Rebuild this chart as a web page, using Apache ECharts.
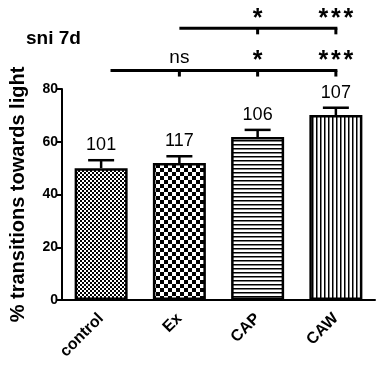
<!DOCTYPE html>
<html>
<head>
<meta charset="utf-8">
<script src="https://cdn.jsdelivr.net/npm/echarts@6/dist/echarts.min.js"></script>
<style>
  html, body { margin: 0; padding: 0; background: #fff; }
  #chart { width: 383px; height: 368px; }
</style>
</head>
<body>
<div id="chart"></div>
<script>
// data
const categories = ["control", "Ex", "CAP", "CAW"];
const means = [50.0, 51.9, 61.8, 70.1];
const errors = [3.0, 2.6, 2.7, 2.8];
const nLabels = ["101", "117", "106", "107"];
const yTicks = [0, 20, 40, 60, 80];

// significance brackets (value-axis height, start position in category units)
const bracketY = [87, 103];
const bracketFrom = [0.12, 1];
const bracketTo = 3;
const sigMarks = [
  ["", "ns", "*", "***"],
  ["", "", "*", "***"],
];

// fill patterns like the prism figure
function makePattern(kind) {
  const c = document.createElement("canvas");
  const ctx = c.getContext("2d");
  if (kind === "fine") {
    c.width = 4; c.height = 4;
    ctx.fillStyle = "#fff"; ctx.fillRect(0, 0, 4, 4);
    ctx.fillStyle = "#000";
    ctx.fillRect(0, 0, 2, 2); ctx.fillRect(2, 2, 2, 2);
  } else if (kind === "coarse") {
    c.width = 8; c.height = 8;
    ctx.fillStyle = "#fff"; ctx.fillRect(0, 0, 8, 8);
    ctx.fillStyle = "#000";
    ctx.fillRect(0, 0, 4, 4); ctx.fillRect(4, 4, 4, 4);
  } else if (kind === "hline") {
    c.width = 4; c.height = 4;
    ctx.fillStyle = "#fff"; ctx.fillRect(0, 0, 4, 4);
    ctx.fillStyle = "#000"; ctx.fillRect(0, 0, 4, 1.5);
  } else {
    c.width = 4; c.height = 4;
    ctx.fillStyle = "#fff"; ctx.fillRect(0, 0, 4, 4);
    ctx.fillStyle = "#000"; ctx.fillRect(0, 0, 1.5, 4);
  }
  return { image: c, repeat: "repeat" };
}
const patterns = ["fine", "coarse", "hline", "vline"].map(makePattern);

const chart = echarts.init(document.getElementById("chart"), null, { renderer: "canvas" });

const option = {
  animation: false,
  title: {
    text: "sni 7d",
    left: 21,
    top: 24,
    textStyle: { fontFamily: "Liberation Sans", fontWeight: "bold", fontSize: 19, color: "#000" },
  },
  grid: { left: 58, right: 8, top: 89, bottom: 68, containLabel: false },
  xAxis: {
    type: "category",
    data: categories,
    axisLine: { lineStyle: { color: "#000", width: 2 } },
    axisTick: { alignWithLabel: true, length: 5, lineStyle: { color: "#000", width: 2 } },
    axisLabel: {
      rotate: 45,
      margin: 16,
      color: "#000",
      fontFamily: "Liberation Sans",
      fontWeight: "bold",
      fontSize: 16,
    },
  },
  yAxis: {
    type: "value",
    min: yTicks[0],
    max: yTicks[yTicks.length - 1],
    interval: yTicks[1] - yTicks[0],
    name: "% transitions towards light",
    nameLocation: "middle",
    nameGap: 34,
    nameTextStyle: { fontFamily: "Liberation Sans", fontWeight: "bold", fontSize: 20, color: "#000" },
    axisLine: { show: true, lineStyle: { color: "#000", width: 2 } },
    axisTick: { show: true, length: 5, lineStyle: { color: "#000", width: 2 } },
    splitLine: { show: false },
    axisLabel: {
      margin: 4,
      color: "#000",
      fontFamily: "Liberation Sans",
      fontWeight: "bold",
      fontSize: 14,
    },
  },
  series: [
    {
      type: "bar",
      barWidth: 53,
      data: means.map((v, i) => ({
        value: v,
        itemStyle: { color: patterns[i], borderColor: "#000", borderWidth: 2.5 },
      })),
    },
    {
      // error bars + n above them
      type: "custom",
      clip: false,
      z: 3,
      data: means.map((m, i) => [i, m, errors[i]]),
      renderItem: function (params, api) {
        const i = api.value(0);
        const m = api.value(1);
        const e = api.value(2);
        const base = api.coord([i, m]);
        const top = api.coord([i, m + e]);
        const style = { stroke: "#000", lineWidth: 2.5 };
        return {
          type: "group",
          children: [
            { type: "line", shape: { x1: base[0], y1: base[1], x2: top[0], y2: top[1] }, style },
            { type: "line", shape: { x1: top[0] - 13, y1: top[1], x2: top[0] + 13, y2: top[1] }, style },
            {
              type: "text",
              style: {
                text: nLabels[params.dataIndex],
                x: top[0],
                y: top[1] - 15,
                align: "center",
                verticalAlign: "middle",
                font: "18px 'Liberation Sans'",
                fill: "#000",
              },
            },
          ],
        };
      },
    },
    {
      // comparison brackets
      type: "custom",
      clip: false,
      z: 3,
      data: bracketY.map((y, k) => [k, y]),
      renderItem: function (params, api) {
        const k = params.dataIndex;
        const y = api.value(1);
        const p0 = api.coord([0, y]);
        const p1 = api.coord([1, y]);
        const step = p1[0] - p0[0];
        const xAt = (f) => p0[0] + f * step;
        const style = { stroke: "#000", lineWidth: 3 };
        const kids = [
          { type: "line", shape: { x1: xAt(bracketFrom[k]), y1: p0[1], x2: xAt(bracketTo) + 1.5, y2: p0[1] }, style },
        ];
        sigMarks[k].forEach((s, c) => {
          if (!s) return;
          const x = xAt(c);
          kids.push({ type: "line", shape: { x1: x, y1: p0[1], x2: x, y2: p0[1] + 6 }, style });
          if (s.indexOf("*") >= 0) {
            // stars spaced out one by one
            const n = s.length;
            for (let j = 0; j < n; j++) {
              kids.push({
                type: "text",
                style: {
                  text: "*",
                  x: x + (j - (n - 1) / 2) * 12.5,
                  y: p0[1] - 9,
                  align: "center",
                  verticalAlign: "middle",
                  font: "bold 25px 'Liberation Sans'",
                  fill: "#000",
                },
              });
            }
          } else {
            kids.push({
              type: "text",
              style: {
                text: s,
                x: x,
                y: p0[1] - 13,
                align: "center",
                verticalAlign: "middle",
                font: "19px 'Liberation Sans'",
                fill: "#000",
              },
            });
          }
        });
        return { type: "group", children: kids };
      },
    },
  ],
};

chart.setOption(option);
window.addEventListener("resize", () => chart.resize());
</script>
</body>
</html>
